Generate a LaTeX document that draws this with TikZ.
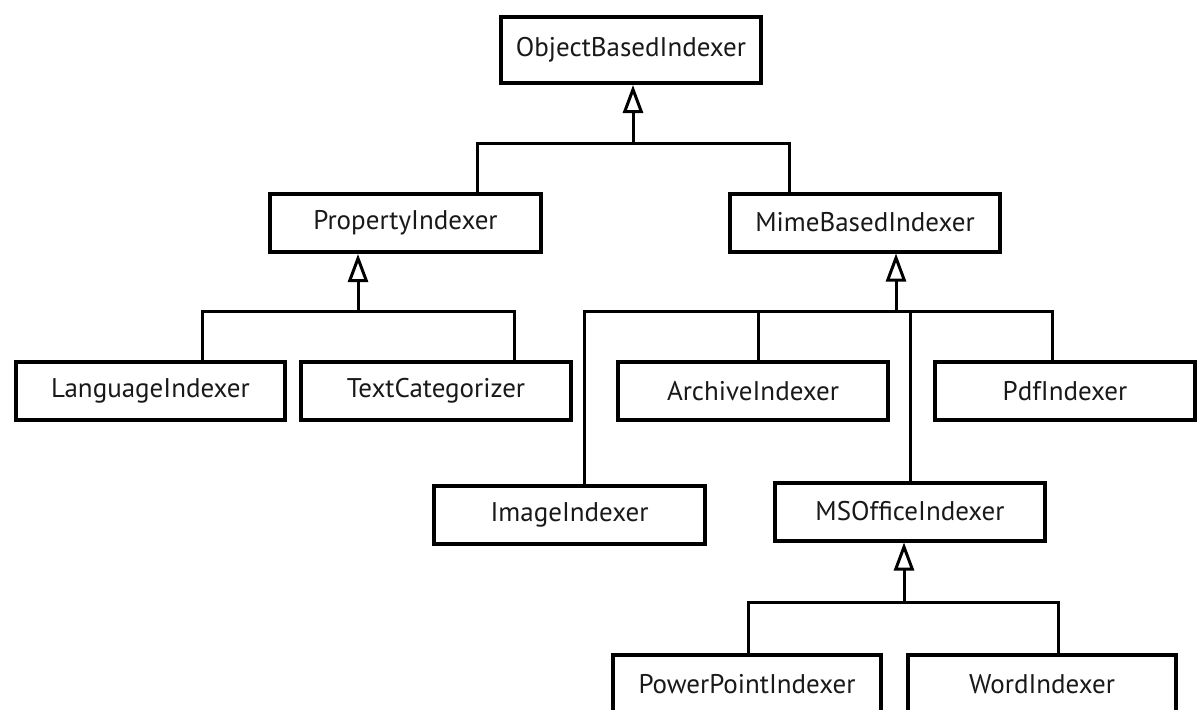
\documentclass[tikz,border=0pt]{standalone}
\usepackage{fontspec}
\setmainfont{PT Sans}
\usetikzlibrary{arrows.meta}
\begin{document}
\begin{tikzpicture}[x=0.5pt,y=-0.5pt,
  cls/.style={draw=black, line width=2pt, fill=white, inner sep=0pt,
    minimum height=29pt, font=\fontsize{13.5}{15}\selectfont, text=black!90},
  conn/.style={draw=black, line width=1.5pt},
  inh/.style={conn, -{Triangle[open, length=14pt, width=10pt, line width=1.5pt]}}]
\useasboundingbox (0,0) rectangle (1198,709);
\clip (0,0) rectangle (1198,709);
\fill[white] (0,0) rectangle (1198,709);
% classes
\node[cls, minimum width=130pt, minimum height=33pt] (obj) at (631,50) {ObjectBasedIndexer};
\node[cls, minimum width=135.5pt] (prop) at (405.5,223) {PropertyIndexer};
\node[cls, minimum width=135pt] (mime) at (865,222.5) {MimeBasedIndexer};
\node[cls, minimum width=134.5pt] (lang) at (150.5,391) {LanguageIndexer};
\node[cls, minimum width=135pt] (text) at (436,391) {TextCategorizer};
\node[cls, minimum width=135pt] (arch) at (753,391) {ArchiveIndexer};
\node[cls, minimum width=130pt] (pdf) at (1065,391) {PdfIndexer};
\node[cls, minimum width=135.5pt] (img) at (569.5,514.5) {ImageIndexer};
\node[cls, minimum width=135pt] (mso) at (910,511.5) {MSOfficeIndexer};
\node[cls, minimum width=134pt] (ppt) at (747,684) {PowerPointIndexer};
\node[cls, minimum width=134pt] (word) at (1042,684) {WordIndexer};
% junction points
\coordinate (t0) at (633,143); \coordinate (tL) at (477,143); \coordinate (tR) at (789,143);
\coordinate (p0) at (358,311); \coordinate (pL) at (202,311); \coordinate (pR) at (514,311);
\coordinate (m0) at (896,311); \coordinate (mL) at (584,311); \coordinate (mR) at (1052,311);
\coordinate (mA) at (758,311); \coordinate (mM) at (910,311);
\coordinate (s0) at (904,602); \coordinate (sL) at (748,602); \coordinate (sR) at (1058,602);
% connectors
\draw[conn] (tL |- prop.north) -- (tL) -- (tR) -- (tR |- mime.north);
\draw[inh] (t0) -- (t0 |- obj.south);
\draw[conn] (pL |- lang.north) -- (pL) -- (pR) -- (pR |- text.north);
\draw[inh] (p0) -- (p0 |- prop.south);
\draw[conn] (mL |- img.north) -- (mL) -- (mR) -- (mR |- pdf.north);
\draw[conn] (mA) -- (mA |- arch.north);
\draw[conn] (mM) -- (mM |- mso.north);
\draw[inh] (m0) -- (m0 |- mime.south);
\draw[conn] (sL |- ppt.north) -- (sL) -- (sR) -- (sR |- word.north);
\draw[inh] (s0) -- (s0 |- mso.south);
\end{tikzpicture}
\end{document}
